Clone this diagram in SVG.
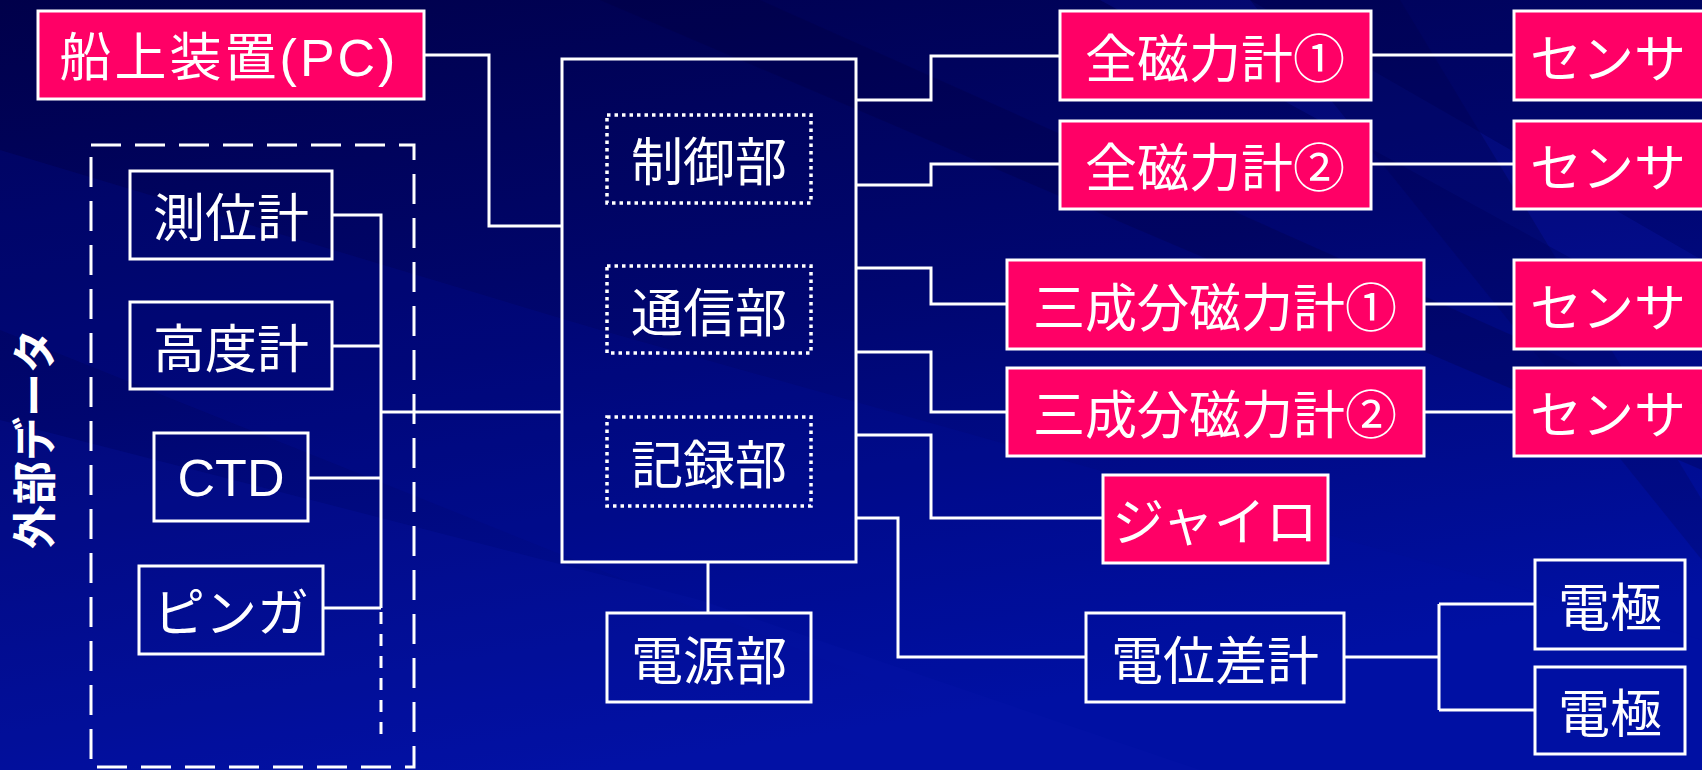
<svg xmlns="http://www.w3.org/2000/svg" width="1702" height="770" viewBox="0 0 1702 770">
<defs>
<linearGradient id="bg" x1="0" y1="0" x2="0.35" y2="1">
<stop offset="0" stop-color="#00004a"/>
<stop offset="0.5" stop-color="#000670"/>
<stop offset="1" stop-color="#0010a2"/>
</linearGradient>
<style>
.t{font-family:"Liberation Sans","Noto Sans CJK JP",sans-serif;font-size:52px;fill:#fff;text-anchor:middle}
.pk{fill:#ff0066;stroke:#fff;stroke-width:3}
.bl{fill:none;stroke:#fff;stroke-width:3}
.dot{fill:none;stroke:#fff;stroke-width:3.5;stroke-dasharray:3.5 4}
.dash{fill:none;stroke:#fff;stroke-width:3;stroke-dasharray:30 14}
.c{fill:none;stroke:#fff;stroke-width:3}
</style>
</defs>
<rect width="1702" height="770" fill="url(#bg)"/>
<g opacity="0.35">
<polygon points="0,150 600,330 1702,640 1702,770 1100,770 0,330" fill="#0010a8" opacity="0.5"/>
<polygon points="0,420 700,600 1200,770 0,770" fill="#0a18b0" opacity="0.6"/>
<polygon points="600,0 760,0 1702,420 1702,470" fill="#00003a" opacity="0.7"/>
<polygon points="1100,0 1250,0 1702,260 1702,330" fill="#1020c0" opacity="0.6"/>
<polygon points="1250,0 1400,0 1702,500 1702,560" fill="#00003a" opacity="0.5"/>
</g>

<g id="connectors">
<path class="c" d="M424,55 H489 V226 H562"/>
<path class="c" d="M332,215 H381 V608"/>
<path class="c" d="M332,346 H381"/>
<path class="c" d="M308,478 H381"/>
<path class="c" d="M323,608 H381"/>
<path class="c" d="M381,412 H562"/>
<path class="c" d="M381,612 V737" stroke-dasharray="12 10"/>
<path class="c" d="M856,100 H931 V56 H1060"/>
<path class="c" d="M856,185 H931 V164 H1060"/>
<path class="c" d="M856,268 H931 V304 H1007"/>
<path class="c" d="M856,352 H931 V412 H1007"/>
<path class="c" d="M856,435 H931 V518 H1103"/>
<path class="c" d="M856,518 H898 V657 H1086"/>
<path class="c" d="M708,562 V613"/>
<path class="c" d="M1371,55 H1514"/>
<path class="c" d="M1371,164 H1514"/>
<path class="c" d="M1424,304 H1514"/>
<path class="c" d="M1424,412 H1514"/>
<path class="c" d="M1344,657 H1439 M1439,604 V710 M1439,604 H1535 M1439,710 H1535"/>
</g>

<g id="external-data">
<rect class="dash" x="91" y="145" width="323" height="622"/>
<text class="t" style="font-size:44px;font-weight:bold" transform="translate(51,439) rotate(-90)">外部データ</text>
</g>

<g id="onboard-pc"><rect class="pk" x="38" y="11" width="386" height="88"/><text class="t" x="229" y="76" style="letter-spacing:3px">船上装置(PC)</text></g>
<g id="positioning"><rect class="bl" x="130" y="171" width="202" height="88"/><text class="t" x="231" y="237">測位計</text></g>
<g id="altimeter"><rect class="bl" x="130" y="302" width="202" height="87"/><text class="t" x="231" y="368">高度計</text></g>
<g id="ctd"><rect class="bl" x="154" y="433" width="154" height="88"/><text class="t" x="231" y="496">CTD</text></g>
<g id="pinger"><rect class="bl" x="139" y="566" width="184" height="88"/><text class="t" x="231" y="632">ピンガ</text></g>

<g id="main-unit"><rect class="bl" x="562" y="59" width="294" height="503"/></g>
<g id="control"><rect class="dot" x="607" y="115" width="204" height="88"/><text class="t" x="709" y="181">制御部</text></g>
<g id="comm"><rect class="dot" x="607" y="266" width="204" height="87"/><text class="t" x="709" y="332">通信部</text></g>
<g id="record"><rect class="dot" x="607" y="417" width="204" height="89"/><text class="t" x="709" y="484">記録部</text></g>
<g id="power"><rect class="bl" x="607" y="613" width="204" height="89"/><text class="t" x="709" y="680">電源部</text></g>

<g id="tmag1"><rect class="pk" x="1060" y="11" width="311" height="89"/><text class="t" x="1215" y="78">全磁力計①</text></g>
<g id="tmag2"><rect class="pk" x="1060" y="121" width="311" height="88"/><text class="t" x="1215" y="187">全磁力計②</text></g>
<g id="vmag1"><rect class="pk" x="1007" y="260" width="417" height="89"/><text class="t" x="1215" y="327">三成分磁力計①</text></g>
<g id="vmag2"><rect class="pk" x="1007" y="368" width="417" height="88"/><text class="t" x="1215" y="434">三成分磁力計②</text></g>
<g id="gyro"><rect class="pk" x="1103" y="475" width="225" height="88"/><text class="t" x="1215" y="541">ジャイロ</text></g>
<g id="potential"><rect class="bl" x="1086" y="613" width="258" height="89"/><text class="t" x="1215" y="680">電位差計</text></g>

<g id="sensor1"><rect class="pk" x="1514" y="11" width="210" height="89"/><text class="t" x="1608" y="78">センサ</text></g>
<g id="sensor2"><rect class="pk" x="1514" y="121" width="210" height="88"/><text class="t" x="1608" y="187">センサ</text></g>
<g id="sensor3"><rect class="pk" x="1514" y="260" width="210" height="89"/><text class="t" x="1608" y="327">センサ</text></g>
<g id="sensor4"><rect class="pk" x="1514" y="368" width="210" height="88"/><text class="t" x="1608" y="434">センサ</text></g>
<g id="electrode1"><rect class="bl" x="1535" y="560" width="150" height="89"/><text class="t" x="1610" y="627">電極</text></g>
<g id="electrode2"><rect class="bl" x="1535" y="667" width="150" height="87"/><text class="t" x="1610" y="733">電極</text></g>
</svg>
